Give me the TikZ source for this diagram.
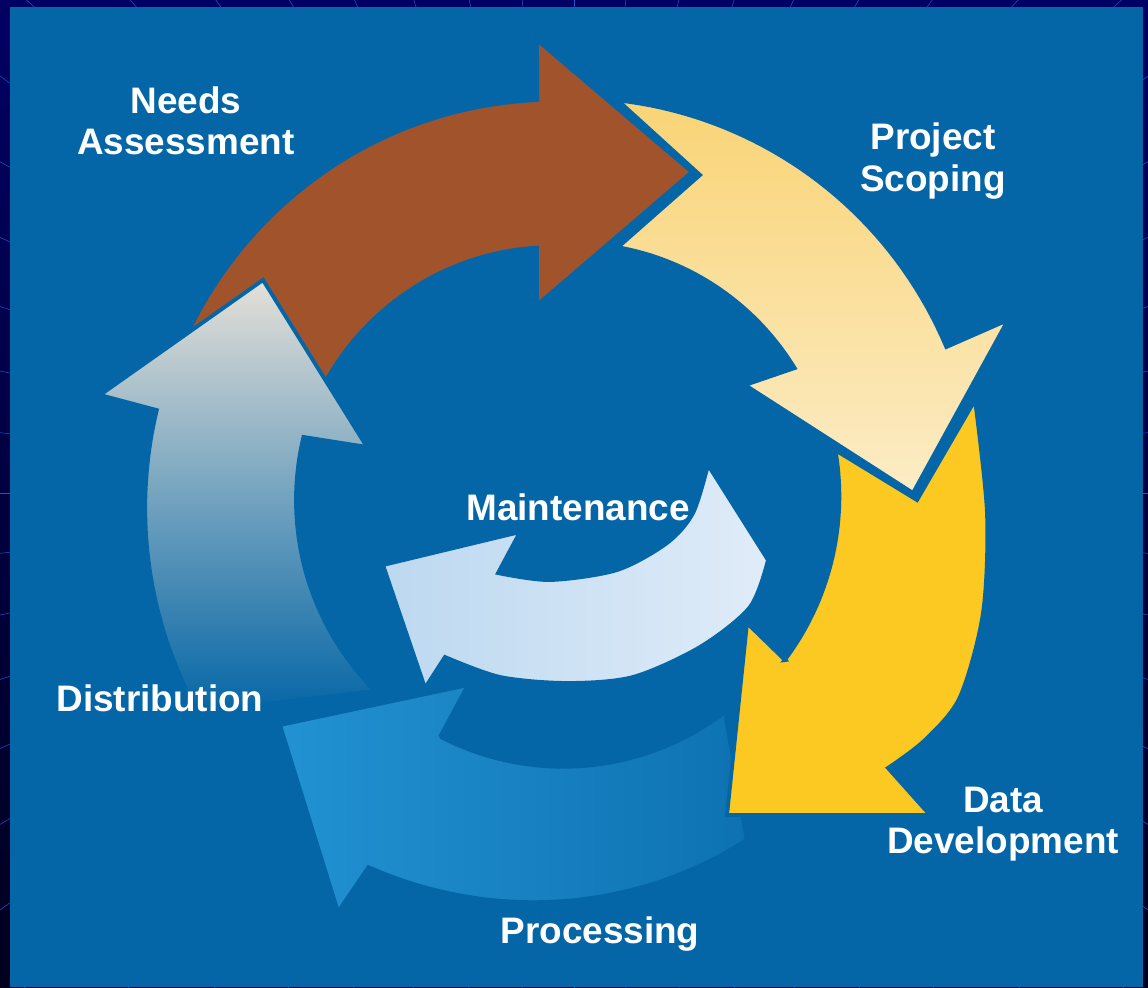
\documentclass[tikz,border=0pt]{standalone}
\usepackage{fontspec}
\setmainfont{Liberation Sans}
\definecolor{navyA}{RGB}{0,0,100}
\definecolor{navyB}{RGB}{0,0,30}
\definecolor{frameline}{RGB}{40,80,190}
\definecolor{bgblue}{RGB}{4,102,166}
\definecolor{brownA}{RGB}{161,84,44}
\definecolor{creamA}{RGB}{249,212,118}
\definecolor{creamB}{RGB}{252,236,198}
\definecolor{yellowA}{RGB}{252,200,34}
\definecolor{procA}{RGB}{34,146,210}
\definecolor{procB}{RGB}{14,114,178}
\definecolor{grayA}{RGB}{228,224,216}
\definecolor{grayB}{RGB}{165,186,200}
\definecolor{maintA}{RGB}{188,216,240}
\definecolor{maintB}{RGB}{224,236,248}
\begin{document}
\begin{tikzpicture}[x=0.02cm,y=-0.02cm,
  lbl/.style={text=white,font=\fontsize{21}{23.5}\selectfont\bfseries,align=center,inner sep=0pt},
  gap/.style={draw=bgblue,line width=2.2pt,line join=miter},
  arcplot/.style={domain=0:1,samples=40,variable=\t}]
\useasboundingbox (0,0) rectangle (1148,987);
% slide frame
\shade[top color=navyA,bottom color=navyB] (0,0) rectangle (1148,987);
\foreach \a in {0,6,...,359} \draw[frameline,line width=0.3pt] (574,493) -- ++(\a:1000);
\fill[bgblue] (10,7) rectangle (1143,987);
% Processing arrow
\shadedraw[gap,left color=procA,right color=procB]
  (280,725) -- (468,685) -- (440,737)
  -- plot[arcplot] ({566+(268+(265-268)*\t)*cos(118+(53.1-118)*\t)},{500+(268+(265-268)*\t)*sin(118+(53.1-118)*\t)})
  -- plot[arcplot] ({566+(385+(417-385)*\t)*cos(62+(118.3-62)*\t)},{500+(385+(417-385)*\t)*sin(62+(118.3-62)*\t)})
  -- (338,912) -- cycle;
% Data Development arrow
\filldraw[gap,fill=yellowA]
  (835,450) -- (917,500) -- (975,400)
  -- plot[smooth] coordinates {(975,400) (987,513) (983,613) (960,697) (925,740) (888,768)}
  -- (930,815) -- (727,815) -- (747,623) -- (785,660)
  -- plot[arcplot] ({566+(271+(274-271)*\t)*cos(36.2+(-10.5-36.2)*\t)},{500+(271+(274-271)*\t)*sin(36.2+(-10.5-36.2)*\t)})
  -- cycle;
% Project Scoping arrow
\shadedraw[gap,top color=creamA,bottom color=creamB]
  plot[arcplot] ({566+(403+(410-403)*\t)*cos(277.4+(338.1-277.4)*\t)},{500+(403+(410-403)*\t)*sin(277.4+(338.1-277.4)*\t)})
  -- (1008,320) -- (913,493) -- (745,385)
  -- plot[arcplot] ({566+(264+(258-264)*\t)*cos(330+(281.6-330)*\t)},{500+(264+(258-264)*\t)*sin(330+(281.6-330)*\t)})
  -- (700,175) -- cycle;
% Needs Assessment arrow
\filldraw[gap,fill=brownA]
  plot[arcplot] ({566+(414+(401-414)*\t)*cos(201.2+(265.9-201.2)*\t)},{500+(414+(401-414)*\t)*sin(201.2+(265.9-201.2)*\t)})
  -- (537,40) -- (692,172) -- (537,305)
  -- plot[arcplot] ({566+(254+(269-254)*\t)*cos(263.4+(202.9-263.4)*\t)},{500+(254+(269-254)*\t)*sin(263.4+(202.9-263.4)*\t)})
  -- cycle;
% Distribution arrow
\shadedraw[gap,top color=grayA,middle color=grayB,bottom color=bgblue]
  (263,280) -- (367,447)
  -- plot[arcplot] ({566+270*cos(193.5+(135-193.5)*\t)},{500+270*sin(193.5+(135-193.5)*\t)})
  -- plot[arcplot] ({566+(425+(419-425)*\t)*cos(150+(192.4-150)*\t)},{500+(425+(419-425)*\t)*sin(150+(192.4-150)*\t)})
  -- (100,395) -- cycle;
% Maintenance arrow
\shadedraw[gap,left color=maintA,right color=maintB]
  (383,565) -- (520,532) -- (498,573)
  -- plot[smooth] coordinates {(498,573) (550,580) (617,570) (667,543) (693,513) (708,465)}
  -- (768,560)
  -- plot[smooth] coordinates {(768,560) (750,607) (700,647) (633,677) (567,683) (500,677) (445,657)}
  -- (425,688) -- cycle;
% labels
\node[lbl] (needs) at (186,121) {Needs\\Assessment};
\node[lbl] (scope) at (933,161) {Project\\Scoping};
\node[lbl] (maint) at (578,507) {Maintenance};
\node[lbl] (distr) at (160,698) {Distribution};
\node[lbl] (datadev) at (1003,824) {Data\\Development};
\node[lbl] (proc) at (600,934) {Processing};
\end{tikzpicture}
\end{document}
